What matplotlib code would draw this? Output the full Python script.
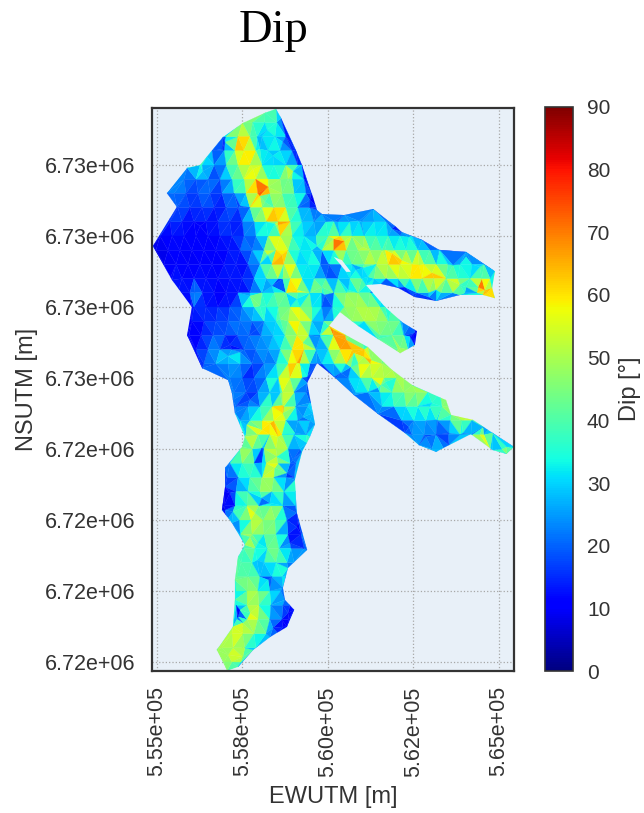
import numpy as np
import matplotlib
matplotlib.use('Agg')
import matplotlib.pyplot as plt
import matplotlib.tri as tri
from matplotlib.patches import PathPatch
from matplotlib.path import Path
from matplotlib.ticker import FormatStrFormatter

plt.rcParams['font.family'] = ['Liberation Sans', 'DejaVu Sans']

# Mesh nodes, one list per northing row
row_north = [6733600, 6733200, 6732800, 6732400, 6732000, 6731600, 6731200, 6730800,
             6730400, 6730000, 6729600, 6729200, 6728800, 6728400, 6728000, 6727600,
             6727200, 6726800, 6726400, 6726000, 6725600, 6725200, 6724800, 6724400,
             6724000, 6723600, 6723200, 6722800, 6722400, 6722000, 6721600, 6721200,
             6720800, 6720400, 6720000, 6719600, 6719200, 6718800, 6718400, 6718000]

row_east = [
    [558300, 558550],
    [557500, 557800, 558150, 558500],
    [557020, 557370, 557720, 558070, 558450, 558770],
    [556610, 556960, 557280, 557540, 557890, 558250, 558600, 558950],
    [556320, 556670, 557020, 557370, 557720, 558070, 558420, 558770, 559120],
    [555790, 556140, 556490, 556840, 557190, 557540, 557890, 558250, 558600, 558950, 559300],
    [555500, 555850, 556200, 556550, 556900, 557250, 557600, 557950, 558300, 558660, 559010, 559360, 559500],
    [555610, 555960, 556320, 556670, 557020, 557370, 557720, 558070, 558420, 558770, 559120, 559470, 559710],
    [555380, 555730, 556080, 556430, 556780, 557130, 557490, 557840, 558190, 558540, 558890, 559240, 559590,
     559940, 560290, 560640, 560990, 561350, 561700],
    [555090, 555440, 555790, 556140, 556490, 556840, 557190, 557540, 557890, 558250, 558600, 558950, 559300,
     559650, 560000, 560350, 560700, 561060, 561410, 561760, 562110, 562460],
    [554970, 555320, 555670, 556020, 556370, 556720, 557080, 557430, 557780, 558130, 558480, 558830, 559180,
     559530, 559820, 560170, 560530, 560880, 561230, 561580, 561930, 562280, 562630, 562980, 563270],
    [555200, 555560, 555910, 556260, 556610, 556960, 557310, 557660, 558010, 558360, 558710, 559060, 559410,
     559770, 560030, 560410, 560700, 561060, 561410, 561760, 562110, 562460, 562810, 563160, 563510, 563860,
     564210, 564560],
    [555380, 555730, 556080, 556430, 556780, 557130, 557490, 557840, 558190, 558540, 558890, 559240, 559590,
     559940, 560290, 560640, 560990, 561350, 561700, 562050, 562400, 562750, 563100, 563450, 563800, 564150,
     564500, 564740],
    [555610, 555960, 556320, 556670, 557020, 557370, 557720, 558070, 558420, 558770, 559120, 559470, 559820,
     560170, 560530, 560880, 561230, 561580, 562250, 562600, 562950, 563300, 563650, 564000, 564350, 564650],
    [556080, 556430, 556780, 557130, 557490, 557840, 558190, 558540, 558890, 559180, 559530, 559820, 560120,
     560470, 560820, 561170, 561520, 561870, 562050],
    [556020, 556370, 556720, 557080, 557430, 557780, 558130, 558480, 558830, 559180, 559530, 559880, 560170,
     560700, 561060, 561410, 561760, 562110, 562460],
    [555940, 556290, 556640, 556990, 557340, 557690, 558040, 558390, 558740, 559090, 559440, 559770, 560150,
     560500, 561520, 561870, 562220, 562510],
    [556140, 556490, 556840, 557190, 557540, 557890, 558250, 558600, 558950, 559300, 559650, 560000, 560350,
     560700, 561060, 562050, 562340],
    [556370, 556720, 557080, 557430, 557780, 558130, 558480, 558830, 559180, 559470, 559820, 560170, 560530,
     560880, 561230, 561580],
    [557130, 557490, 557840, 558190, 558540, 558890, 559240, 560230, 560590, 560940, 561290, 561640, 561990, 562220],
    [557250, 557600, 557950, 558300, 558660, 559010, 559360, 560820, 561170, 561520, 561870, 562220, 562570,
     562920, 563270],
    [557310, 557660, 558010, 558360, 558710, 559060, 559410, 561580, 561930, 562280, 562630, 562980, 563330, 563540],
    [557430, 557720, 558070, 558420, 558770, 559120, 559470, 562160, 562510, 562860, 563210, 563570, 563910, 564210],
    [557600, 557950, 558300, 558660, 559010, 559360, 562460, 562810, 563160, 563510, 563860, 564210, 564560],
    [557430, 557780, 558130, 558480, 558830, 559180, 563040, 563390, 564740, 565090, 565380],
    [557130, 557490, 557840, 558190, 558540, 558890, 559060],
    [557050, 557370, 557720, 558070, 558420, 558770, 559010],
    [556990, 557310, 557660, 558010, 558360, 558710, 559060],
    [556960, 557280, 557630, 557980, 558330, 558680, 559040],
    [557050, 557400, 557750, 558100, 558450, 558800, 559120],
    [557430, 557780, 558130, 558480, 558830, 559210],
    [557540, 557870, 558220, 558570, 558920, 559300],
    [557460, 557780, 558130, 558480, 558800, 559010],
    [557340, 557660, 558010, 558360, 558650, 558770],
    [557310, 557630, 557950, 558300, 558620],
    [557310, 557630, 557980, 558330, 558680, 558890],
    [557340, 557630, 557950, 558300, 558650, 558860],
    [557190, 557510, 557840, 558190, 558540],
    [556900, 557220, 557570, 557890],
    [556960, 557190, 557460],
]

row_dip = [
    [42, 38],
    [50, 45, 35, 40],
    [20, 68, 45, 30, 35, 20],
    [20, 25, 50, 70, 45, 30, 35, 15],
    [25, 15, 35, 45, 62, 42, 28, 40, 22],
    [22, 18, 25, 15, 38, 45, 68, 35, 40, 30, 15],
    [25, 20, 15, 22, 14, 28, 42, 72, 45, 32, 42, 28, 12],
    [20, 14, 20, 12, 18, 15, 36, 55, 65, 42, 30, 25, 12],
    [13, 16, 10, 14, 12, 20, 10, 36, 48, 75, 48, 28, 30, 25, 22, 30, 25, 28, 30],
    [10, 13, 10, 12, 11, 14, 12, 22, 10, 45, 62, 40, 30, 22, 60, 42, 38, 35, 35, 30, 28, 30],
    [8, 10, 12, 8, 11, 9, 13, 14, 28, 30, 60, 45, 30, 35, 12, 70, 50, 42, 45, 42, 38, 38, 35, 32, 28],
    [8, 11, 9, 12, 10, 12, 14, 11, 30, 52, 68, 30, 32, 35, 10, 25, 38, 52, 55, 62, 58, 55, 48, 40, 35, 40, 35, 25],
    [13, 14, 11, 13, 12, 14, 12, 22, 38, 38, 70, 35, 28, 15, 30, 35, 48, 45, 35, 48, 52, 55, 62, 55, 40, 25, 60, 35],
    [12, 12, 14, 11, 10, 13, 14, 30, 45, 42, 72, 30, 25, 40, 48, 45, 30, 20, 15, 28, 35, 38, 30, 25, 35, 72],
    [18, 14, 12, 16, 22, 32, 30, 40, 42, 60, 38, 32, 15, 48, 50, 52, 48, 35, 25],
    [10, 13, 18, 20, 22, 25, 28, 32, 45, 68, 35, 20, 45, 45, 50, 50, 45, 40, 25],
    [8, 12, 20, 15, 22, 18, 25, 28, 30, 62, 30, 25, 68, 60, 40, 45, 30, 12],
    [12, 20, 26, 14, 20, 24, 22, 35, 50, 62, 28, 38, 62, 68, 50, 48, 48],
    [20, 25, 20, 30, 12, 25, 20, 50, 65, 25, 20, 40, 50, 68, 62, 50],
    [22, 18, 15, 28, 45, 65, 30, 20, 28, 40, 50, 55, 52, 48],
    [25, 20, 18, 32, 58, 30, 18, 25, 30, 25, 42, 48, 50, 52, 45],
    [22, 26, 32, 45, 55, 32, 25, 30, 28, 40, 35, 42, 48, 45],
    [22, 30, 40, 60, 40, 28, 22, 22, 28, 30, 25, 35, 50, 50],
    [35, 68, 42, 58, 30, 38, 28, 18, 22, 18, 40, 35, 55],
    [45, 50, 38, 60, 30, 22, 28, 30, 50, 48, 35],
    [25, 48, 30, 45, 55, 20, 28],
    [18, 22, 35, 42, 50, 15, 25],
    [12, 25, 35, 50, 52, 28, 50],
    [8, 20, 55, 35, 55, 30, 18],
    [22, 25, 55, 38, 50, 25, 10],
    [22, 60, 45, 40, 15, 15],
    [35, 50, 40, 48, 22, 22],
    [38, 40, 38, 42, 25, 30],
    [40, 42, 35, 12, 50, 25],
    [30, 45, 50, 40, 20],
    [25, 55, 40, 30, 25, 12],
    [8, 50, 60, 32, 12, 12],
    [55, 58, 40, 30, 18],
    [45, 50, 38, 30],
    [45, 48, 42],
]

# Local highs and lows between the rows
spot_east = [556990, 556900, 557430, 558160, 558450, 558250, 558680, 558360, 559090, 559910, 558010, 557720,
             556110, 557130, 557080, 557430, 557920, 558600, 556260, 556340, 556460, 558010, 558250, 558540,
             558660, 558220, 559090, 559090, 559270, 558830, 558980, 557810, 559680, 558390, 558680, 558010,
             558220, 557920, 558070, 558070, 558450, 558600, 558800, 558980, 557950, 558300, 558070, 557870,
             557130, 556990, 557220, 559090, 558890, 558250, 557920, 557430, 557370, 557720, 557510, 558830,
             558680, 558390, 557510, 557080, 558070, 558300, 558660, 558680, 558540, 558510, 557720, 557630,
             557220, 557720, 559560, 559030, 559390,
             560170, 560470, 561020, 561870, 562660, 563040, 562160, 561670, 560910, 560170, 561870, 562370,
             563650, 564040, 564440, 564040, 563860, 564390, 564590, 562460, 562250, 562950, 563160, 560820,
             561020, 561170, 562540, 562400, 562110, 560590, 560170, 560530, 560760, 561260, 561050, 561550,
             561460, 561670, 560670, 560880, 560380, 563040, 563160, 563540, 563950, 562870, 562370, 564240,
             564530, 564440, 564740, 565230, 559470, 559820, 559270, 559470, 559770, 559390]
spot_north = [6732650, 6732450, 6730850, 6730960, 6730340, 6729440, 6728790, 6728590, 6728230, 6728340, 6728030,
              6728310, 6728420, 6726930, 6726620, 6726730, 6727380, 6727660, 6730280, 6731830, 6732230, 6731130,
              6731380, 6730310, 6729470, 6729470, 6728480, 6726420, 6726990, 6731610, 6731830, 6731890, 6729720,
              6732260, 6732650, 6732450, 6732990, 6732790, 6724030, 6723610, 6723470, 6725580, 6723320, 6723690,
              6721350, 6722480, 6722620, 6722200, 6722760, 6722280, 6722230, 6721800, 6721350, 6720310, 6720870,
              6719460, 6719270, 6719380, 6719100, 6719380, 6718990, 6718960, 6718140, 6718200, 6724540, 6724730,
              6725240, 6725010, 6724340, 6723780, 6721520, 6724680, 6725380, 6725380, 6725010, 6724450, 6724170,
              6729920, 6729860, 6729690, 6729520, 6729180, 6728960, 6729320, 6729610, 6730420, 6730420, 6730200,
              6729970, 6729180, 6729410, 6729130, 6728560, 6728620, 6728560, 6728480, 6728340, 6728560, 6728280,
              6728480, 6729040, 6729100, 6728850, 6727270, 6727160, 6726850, 6728480, 6727350, 6727070, 6726700,
              6726510, 6726590, 6725800, 6725720, 6725890, 6726310, 6726420, 6726140, 6725300, 6724820, 6724450,
              6724450, 6724340, 6724620, 6724900, 6724620, 6724400, 6724620, 6724060, 6731010, 6728560, 6724900,
              6725300, 6727160, 6726030]
spot_dip = [10, 12, 8, 8, 8, 8, 5, 10, 8, 8, 50, 50, 35, 5, 35, 30, 10, 50, 8, 40, 50, 75, 72, 75, 72, 70, 68, 72,
            68, 58, 55, 58, 35, 22, 22, 25, 30, 28, 8, 10, 68, 10, 8, 12, 10, 10, 18, 58, 8, 8, 35, 8, 8, 8, 12, 5,
            5, 58, 55, 12, 8, 18, 62, 50, 68, 70, 70, 68, 62, 58, 62, 30, 22, 10, 45, 10, 35,
            72, 70, 68, 68, 72, 70, 60, 48, 22, 20, 20, 32, 25, 25, 32, 18, 68, 72, 78, 10, 18, 10, 45, 20, 22, 22,
            6, 15, 52, 20, 72, 70, 70, 62, 68, 62, 18, 12, 20, 22, 15, 15, 22, 14, 12, 15, 14, 60, 12, 62, 12, 42,
            6, 72, 15, 20, 15, 8]

# Outline of the mesh, clockwise from the top, with the dip at each vertex
outline_east = [558480, 558630, 559060, 559240, 559560, 559680, 559820, 560470, 561320, 561960, 562160, 562750,
                563250, 564040, 564880, 564800, 564880, 564530, 563860, 563160, 562540, 562050, 561550, 561110,
                561670, 562160, 562600, 562540, 562110, 561460, 560880, 560350, 560030, 561170, 561870, 562460,
                563450, 563600, 564240, 564820, 565440, 565230, 564820, 564180, 563540, 563160, 562660, 562250,
                561460, 560760, 560180, 559680, 559390, 559620, 559470, 559240, 559030, 559090, 559390, 558830,
                558680, 558740, 559010, 558800, 558300, 557810, 557370, 557050, 556750, 557220, 557280, 557280,
                557370, 557570, 557190, 556900, 556990, 556990, 557490, 557570, 557280, 557190, 557080, 556320,
                555880, 556020, 555440, 554880, 555580, 555290, 555880, 556260, 556930, 557510, 558160]
outline_north = [6733578, 6733320, 6732420, 6732000, 6731100, 6730730, 6730620, 6730590, 6730760, 6730280, 6730110,
                 6729890, 6729610, 6729550, 6729010, 6728540, 6728250, 6728340, 6728340, 6728170, 6728280, 6728540,
                 6728650, 6728620, 6728000, 6727580, 6727320, 6726930, 6726700, 6727100, 6727470, 6727860, 6727470,
                 6726870, 6726230, 6725800, 6725380, 6724960, 6724820, 6724450, 6724060, 6723860, 6723970, 6724420,
                 6724110, 6723920, 6724110, 6724450, 6724990, 6725520, 6726030, 6726420, 6725860, 6724700, 6724340,
                 6723920, 6723130, 6722200, 6721160, 6720650, 6720090, 6719750, 6719470, 6718990, 6718700, 6718340,
                 6717860, 6717750, 6718340, 6718990, 6719750, 6720310, 6720960, 6721300, 6721920, 6722280, 6722930,
                 6723470, 6724060, 6724340, 6725010, 6725580, 6725940, 6726280, 6727210, 6728000, 6728760, 6729720,
                 6730820, 6731210, 6731920, 6732000, 6732790, 6733180, 6733470]
outline_dip = [38, 12, 10, 12, 10, 12, 25, 22, 25, 10, 12, 18, 12, 12, 25, 40, 70, 40, 25, 12, 12, 10, 12, 25,
               25, 15, 8, 12, 45, 30, 12, 45, 65, 50, 45, 45, 45, 48, 52, 20, 28, 45, 18, 20, 12, 25, 28, 15,
               12, 22, 20, 25, 18, 15, 40, 25, 30, 10, 22, 12, 20, 25, 12, 10, 25, 20, 28, 45, 50, 50, 25, 45,
               42, 35, 25, 8, 10, 22, 40, 35, 20, 22, 22, 15, 10, 12, 12, 8, 15, 22, 25, 40, 25, 42, 40]

# Small hole between the two upper branches
hole_east = [560170, 560410, 560670, 560530, 560350]
hole_north = [6729410, 6729320, 6728990, 6728990, 6729210]

x_ticks = [555000, 557500, 560000, 562500, 565000]
y_ticks = [6718000, 6720000, 6722000, 6724000, 6726000, 6728000, 6730000, 6732000]
cbar_ticks = [0, 10, 20, 30, 40, 50, 60, 70, 80, 90]

# Regroupe les noeuds
east, north, dip = [], [], []
for n, es, ds in zip(row_north, row_east, row_dip):
    for e, d in zip(es, ds):
        east.append(e)
        north.append(n)
        dip.append(d)
print(len(spot_east), len(spot_north), len(spot_dip))
n_spots = min(len(spot_east), len(spot_north), len(spot_dip))
east = np.array(east + spot_east[:n_spots] + outline_east, dtype=float)
north = np.array(north + spot_north[:n_spots] + outline_north, dtype=float)
dip = np.array(dip + spot_dip[:n_spots] + outline_dip, dtype=float)

W, H = 644, 813
fig = plt.figure(figsize=(W / 100, H / 100), dpi=100)
ax = fig.add_axes([152 / W, 1 - 671 / H, 362 / W, 563 / H])
ax.set_facecolor('#e8f0f8')
ax.set_axisbelow(True)

mesh = tri.Triangulation(east, north)
tpc = ax.tripcolor(mesh, dip, cmap='jet', vmin=0, vmax=90, shading='flat',
                   edgecolors='face', linewidth=0.2)

# Clip to outline
verts = list(zip(outline_east, outline_north)) + [(outline_east[0], outline_north[0])]
codes = [Path.MOVETO] + [Path.LINETO] * (len(outline_east) - 1) + [Path.CLOSEPOLY]
hole = list(zip(hole_east[::-1], hole_north[::-1]))
verts += hole + [hole[0]]
codes += [Path.MOVETO] + [Path.LINETO] * (len(hole) - 1) + [Path.CLOSEPOLY]
patch = PathPatch(Path(verts, codes), transform=ax.transData, facecolor='none', edgecolor='none')
ax.add_patch(patch)
tpc.set_clip_path(patch)

ax.set_xlim(554854, 565440)
ax.set_ylim(6717746, 6733606)
ax.set_xticks(x_ticks)
ax.set_yticks(y_ticks)
ax.xaxis.set_major_formatter(FormatStrFormatter('%.2e'))
ax.yaxis.set_major_formatter(FormatStrFormatter('%.2e'))
ax.grid(True, color='#a8a8a8', linestyle=':', linewidth=0.9)
ax.tick_params(axis='both', length=0, labelsize=15.5, labelcolor='#333333')
ax.tick_params(axis='x', labelrotation=90, pad=11)
ax.tick_params(axis='y', pad=12)
for s in ax.spines.values():
    s.set_edgecolor('#333333')
    s.set_linewidth(1.6)
ax.set_xlabel('EWUTM [m]', fontsize=17, color='#333333', labelpad=7)
ax.set_ylabel('NSUTM [m]', fontsize=17, color='#333333', labelpad=5)

cax = fig.add_axes([545 / W, 1 - 671 / H, 28 / W, 564 / H])
cbar = fig.colorbar(tpc, cax=cax, ticks=cbar_ticks)
cbar.ax.tick_params(length=0, labelsize=15, labelcolor='#333333', pad=10)
cbar.outline.set_edgecolor('#333333')
cbar.outline.set_linewidth(1.2)
cbar.set_label('Dip [°]', fontsize=17, color='#333333', labelpad=6)

fig.text(273 / W, 1 - 31 / H, 'Dip', fontsize=33.5, family='Liberation Serif',
         color='black', ha='center', va='center')

plt.savefig('out.png', dpi=100)
